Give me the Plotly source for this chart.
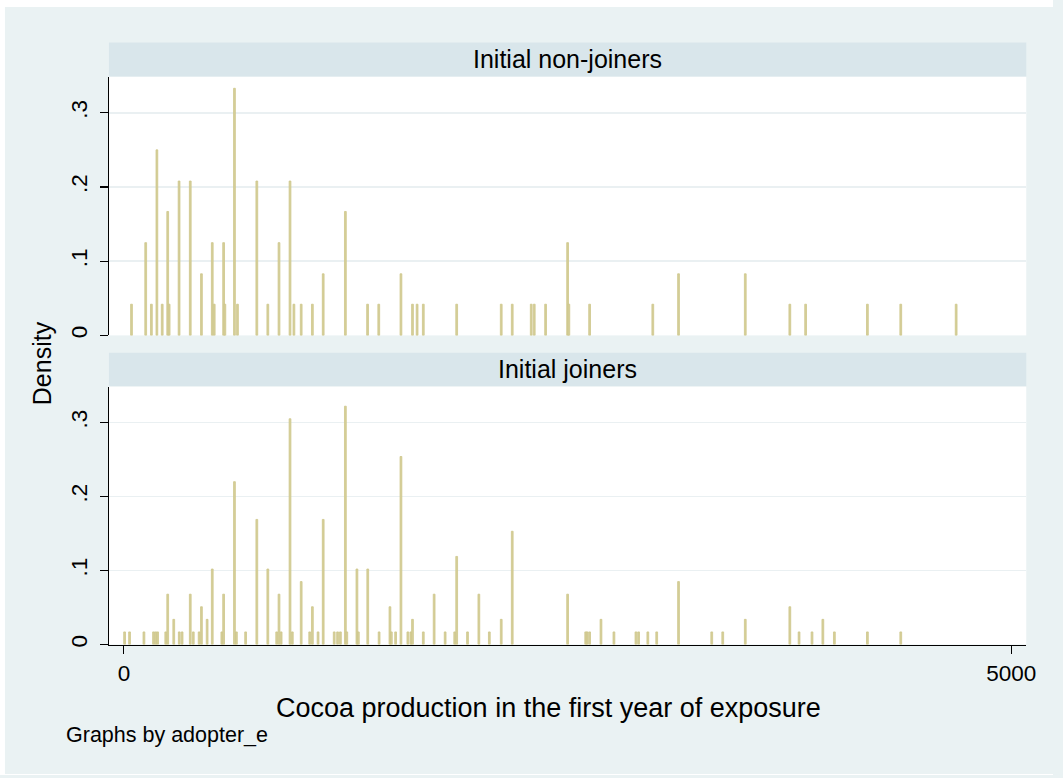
import plotly.graph_objects as go

# ---- data ----
panel_titles = ["Initial non-joiners", "Initial joiners"]

# Initial non-joiners: bin centres (cocoa production) and densities
x_nonjoin = [43, 123, 155, 186, 216, 247, 255, 311, 374, 437, 498, 509, 562, 569,
             623, 640, 749, 811, 874, 936, 958, 999, 1062, 1123, 1248, 1373, 1436,
             1561, 1626, 1652, 1687, 1875, 2126, 2188, 2295, 2312, 2376, 2500, 2507,
             2624, 2980, 3125, 3501, 3752, 3841, 4189, 4377, 4689]
d_nonjoin = [0.042, 0.125, 0.042, 0.250, 0.042, 0.167, 0.042, 0.208, 0.208, 0.083,
             0.125, 0.042, 0.125, 0.042, 0.333, 0.042, 0.208, 0.042, 0.125, 0.208,
             0.042, 0.042, 0.042, 0.083, 0.167, 0.042, 0.042, 0.083, 0.042, 0.042,
             0.042, 0.042, 0.042, 0.042, 0.042, 0.042, 0.042, 0.125, 0.042, 0.042,
             0.042, 0.083, 0.083, 0.042, 0.042, 0.042, 0.042, 0.042]

# Initial joiners
x_join = [4, 32, 113, 167, 179, 190, 236, 247, 281, 312, 328, 374, 391, 424, 437,
          469, 498, 552, 562, 623, 634, 686, 749, 811, 861, 874, 886, 936, 949, 999,
          1047, 1062, 1094, 1123, 1185, 1204, 1220, 1248, 1256, 1313, 1321, 1374,
          1438, 1499, 1507, 1531, 1561, 1600, 1617, 1626, 1687, 1748, 1810, 1864,
          1875, 1936, 2000, 2059, 2126, 2188, 2500, 2602, 2610, 2624, 2688, 2761,
          2885, 2900, 2952, 3002, 3125, 3312, 3374, 3501, 3752, 3804, 3877, 3938,
          4003, 4189, 4377]
d_join = [0.017, 0.017, 0.017, 0.017, 0.017, 0.017, 0.017, 0.068, 0.034, 0.017,
          0.017, 0.068, 0.017, 0.017, 0.051, 0.034, 0.102, 0.017, 0.068, 0.220,
          0.017, 0.017, 0.169, 0.102, 0.017, 0.068, 0.017, 0.305, 0.017, 0.085,
          0.017, 0.051, 0.017, 0.169, 0.017, 0.017, 0.017, 0.322, 0.017, 0.102,
          0.017, 0.102, 0.017, 0.051, 0.017, 0.017, 0.254, 0.017, 0.017, 0.034,
          0.017, 0.068, 0.017, 0.017, 0.119, 0.017, 0.068, 0.017, 0.034, 0.153,
          0.068, 0.017, 0.017, 0.017, 0.034, 0.017, 0.017, 0.017, 0.017, 0.017,
          0.085, 0.017, 0.017, 0.034, 0.051, 0.017, 0.017, 0.034, 0.017, 0.017,
          0.017]

y_tickvals = [0, 0.1, 0.2, 0.3]
y_ticktext = ["0", ".1", ".2", ".3"]
x_tickvals = [0, 5000]
x_ticktext = ["0", "5000"]

# ---- style ----
W, H = 1063, 778
BG = "#EAF2F3"
STRIP = "#D9E6EB"
BAR = "#D6CF9A"
BAR_LINE = "#CEC68A"
GRID = "#EAF0F2"
FONT = "Liberation Sans, Arial, Helvetica, sans-serif"

def px_x(p):
    return p / W

def px_y(p):
    return 1 - p / H

plot_l, plot_r = 110, 1036
top_t, top_b = 77, 336.7
bot_t, bot_b = 388, 647

fig = go.Figure()
fig.add_trace(go.Bar(x=x_nonjoin, y=d_nonjoin, width=10, xaxis="x", yaxis="y",
                     marker=dict(color=BAR, line=dict(color=BAR_LINE, width=0.8)),
                     showlegend=False))
fig.add_trace(go.Bar(x=x_join, y=d_join, width=10, xaxis="x2", yaxis="y2",
                     marker=dict(color=BAR, line=dict(color=BAR_LINE, width=0.8)),
                     showlegend=False))

xr = [-84, 5084]
yr = [0, 0.3486]

yaxis_common = dict(range=yr, tickvals=y_tickvals, ticktext=y_ticktext,
                    tickangle=-90, ticks="outside", ticklen=8, tickwidth=1.2,
                    tickcolor="black", showline=True, linecolor="black", linewidth=1.3,
                    showgrid=True, gridcolor=GRID, gridwidth=1.5, zeroline=False,
                    ticklabelstandoff=4,
                    tickfont=dict(family=FONT, size=22.5, color="black"),
                    fixedrange=True)

fig.update_layout(
    width=W, height=H, autosize=False,
    margin=dict(l=0, r=0, t=0, b=0),
    paper_bgcolor=BG, plot_bgcolor="white",
    barmode="overlay", bargap=0,
    font=dict(family=FONT, color="black"),
    xaxis=dict(domain=[px_x(plot_l), px_x(plot_r)], range=xr, anchor="y",
               showticklabels=False, ticks="", showline=False, showgrid=False,
               zeroline=False, matches="x2", fixedrange=True),
    yaxis=dict(domain=[px_y(top_b), px_y(top_t)], anchor="x", **yaxis_common),
    xaxis2=dict(domain=[px_x(plot_l), px_x(plot_r)], range=xr, anchor="y2",
                tickvals=x_tickvals, ticktext=x_ticktext, ticks="outside",
                ticklen=8, tickwidth=1.2, tickcolor="black", showline=True,
                linecolor="black", linewidth=1.3, showgrid=False, zeroline=False,
                fixedrange=True,
                tickfont=dict(family=FONT, size=22.5, color="black")),
    yaxis2=dict(domain=[px_y(bot_b), px_y(bot_t)], anchor="x2", **yaxis_common),
)

shapes = [
    # white outer margins
    dict(type="rect", xref="paper", yref="paper", x0=0, x1=px_x(5), y0=0, y1=1,
         fillcolor="white", line=dict(width=0), layer="below"),
    dict(type="rect", xref="paper", yref="paper", x0=0, x1=1, y0=px_y(7), y1=1,
         fillcolor="white", line=dict(width=0), layer="below"),
    dict(type="rect", xref="paper", yref="paper", x0=0, x1=1, y0=0, y1=px_y(777),
         fillcolor="white", line=dict(width=0), layer="below"),
    # strips
    dict(type="rect", xref="paper", yref="paper", x0=px_x(plot_l), x1=px_x(plot_r),
         y0=px_y(76.7), y1=px_y(42.7), fillcolor=STRIP, line=dict(width=0), layer="below"),
    dict(type="rect", xref="paper", yref="paper", x0=px_x(plot_l), x1=px_x(plot_r),
         y0=px_y(387.7), y1=px_y(354), fillcolor=STRIP, line=dict(width=0), layer="below"),
]
fig.update_layout(shapes=shapes)

annotations = [
    dict(text=panel_titles[0], xref="paper", yref="paper",
         x=px_x((plot_l + plot_r) / 2), y=px_y(59.7), showarrow=False,
         xanchor="center", yanchor="middle", font=dict(family=FONT, size=25)),
    dict(text=panel_titles[1], xref="paper", yref="paper",
         x=px_x((plot_l + plot_r) / 2), y=px_y(370.8), showarrow=False,
         xanchor="center", yanchor="middle", font=dict(family=FONT, size=25)),
    dict(text="Density", xref="paper", yref="paper", x=px_x(42), y=px_y(365),
         showarrow=False, textangle=-90, xanchor="center", yanchor="middle",
         font=dict(family=FONT, size=25)),
    dict(text="Cocoa production in the first year of exposure", xref="paper",
         yref="paper", x=px_x(554), y=px_y(711), showarrow=False,
         xanchor="center", yanchor="middle", font=dict(family=FONT, size=27)),
    dict(text="Graphs by adopter_e", xref="paper", yref="paper", x=px_x(65),
         y=px_y(738), showarrow=False, xanchor="left", yanchor="middle",
         font=dict(family=FONT, size=21.5)),
]
fig.update_layout(annotations=annotations)

fig.write_html("out.html", config={"staticPlot": True, "displayModeBar": False})
